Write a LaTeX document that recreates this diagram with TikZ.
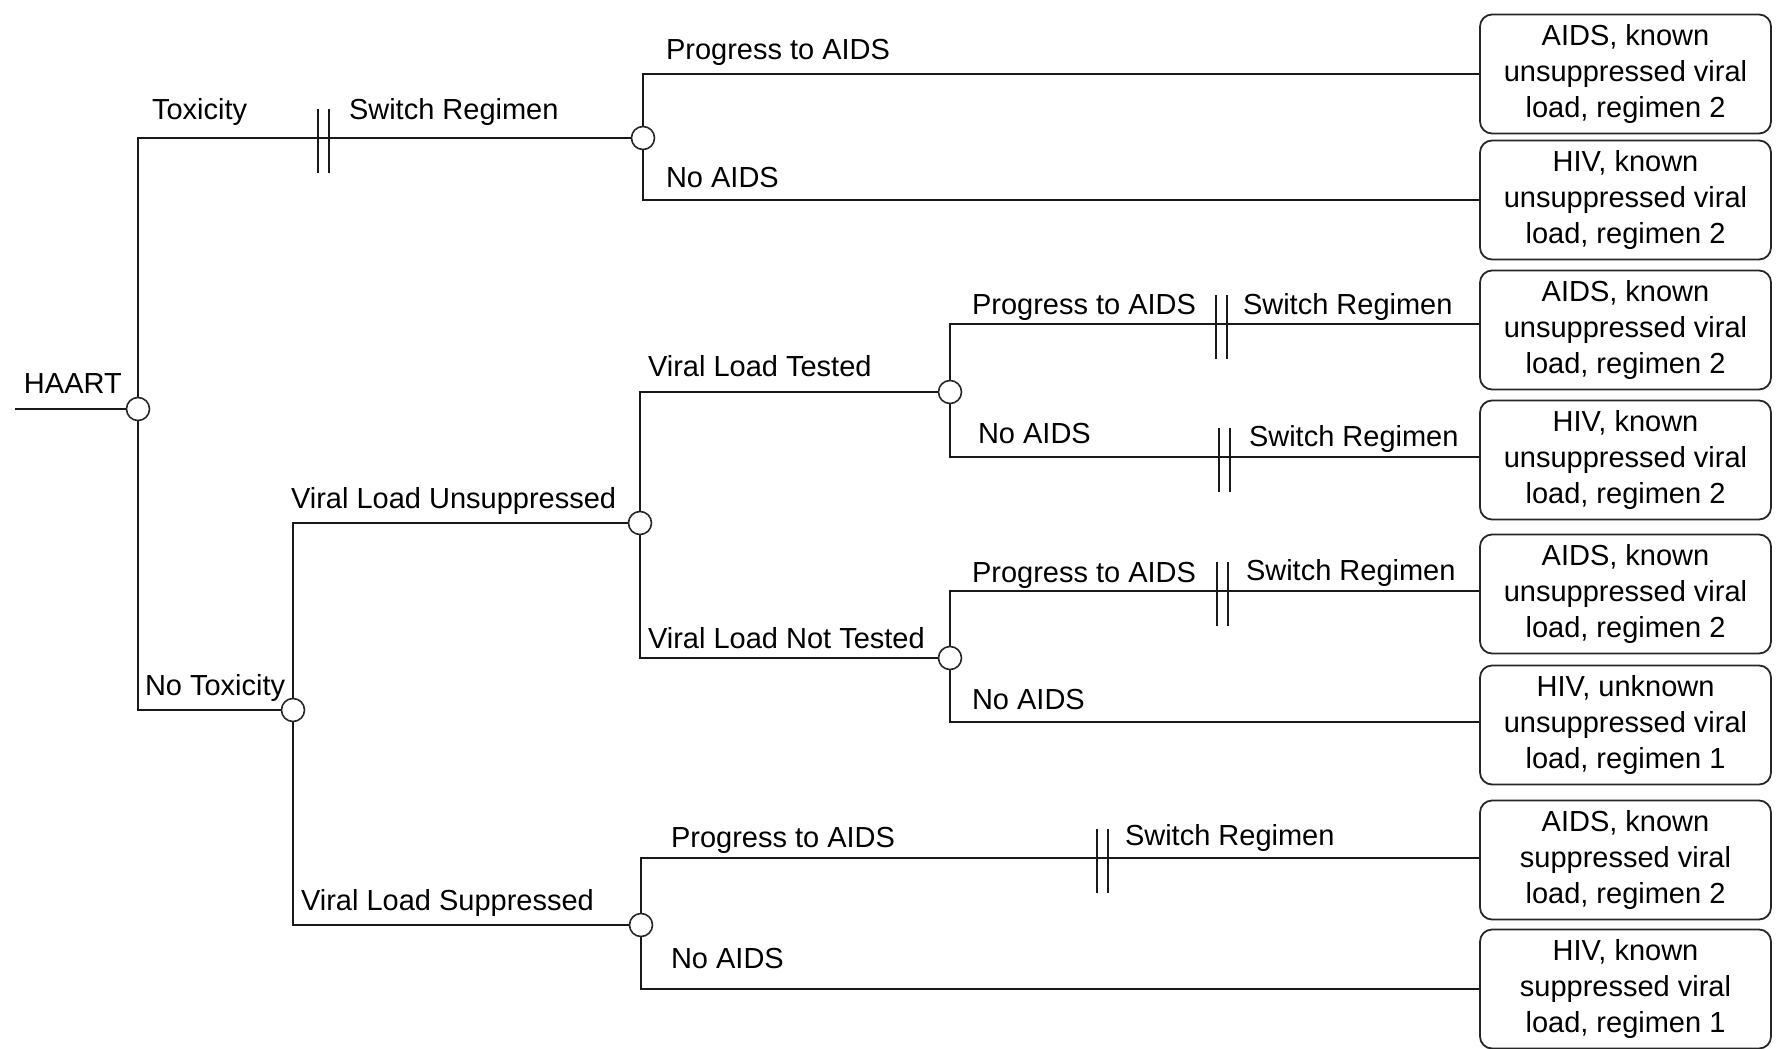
\documentclass[tikz,border=0pt]{standalone}
\usepackage{fontspec}
\setmainfont{Liberation Sans}
\begin{document}
\begin{tikzpicture}[x=0.5pt,y=-0.5pt,
  every path/.style={line width=1pt},
  chance/.style={circle,draw=black!85,fill=white,line width=0.8pt,minimum size=11.5pt,inner sep=0pt},
  lbl/.style={anchor=base west,inner sep=0pt,font=\fontsize{14.5}{17.85}\selectfont},
  outcome/.style={draw=black!85,line width=0.9pt,rounded corners=6pt,minimum width=145.5pt,minimum height=59.5pt,align=center,inner sep=0pt,font=\fontsize{14.5}{17.85}\selectfont},
  branch/.style={draw=black!90,line width=1pt}]
\useasboundingbox (0,0) rectangle (1777,1049);
\newcommand\dbar[2]{\draw[branch] ({#1-5.5},{#2-29}) -- ({#1-5.5},{#2+35}) ({#1+5.5},{#2-29}) -- ({#1+5.5},{#2+35});}
% outcome boxes
\node[outcome] (o1) at (1625.5,74) {AIDS, known\\unsuppressed viral\\load, regimen 2};
\node[outcome] (o2) at (1625.5,200) {HIV, known\\unsuppressed viral\\load, regimen 2};
\node[outcome] (o3) at (1625.5,330) {AIDS, known\\unsuppressed viral\\load, regimen 2};
\node[outcome] (o4) at (1625.5,460) {HIV, known\\unsuppressed viral\\load, regimen 2};
\node[outcome] (o5) at (1625.5,594) {AIDS, known\\unsuppressed viral\\load, regimen 2};
\node[outcome] (o6) at (1625.5,725) {HIV, unknown\\unsuppressed viral\\load, regimen 1};
\node[outcome] (o7) at (1625.5,860) {AIDS, known\\suppressed viral\\load, regimen 2};
\node[outcome] (o8) at (1625.5,989) {HIV, known\\suppressed viral\\load, regimen 1};
% chance nodes
\coordinate (start) at (15,409);
\node[chance] (R) at (138,409) {};
\node[chance] (B) at (643,138) {};
\node[chance] (C) at (293,710) {};
\node[chance] (D) at (640,523) {};
\node[chance] (E) at (950,392) {};
\node[chance] (F) at (950,658) {};
\node[chance] (G) at (641,925) {};
% connectors
\draw[branch] (start) -- (R);
\draw[branch] (R) |- (B);
\draw[branch] (R) |- (C);
\draw[branch] (B) |- ([yshift=0pt]o1.west |- 0,74);
\draw[branch] (B) |- (o2.west |- 0,200);
\draw[branch] (C) |- (D);
\draw[branch] (C) |- (G);
\draw[branch] (D) |- (E);
\draw[branch] (D) |- (F);
\draw[branch] (E) |- (o3.west |- 0,324);
\draw[branch] (E) |- (o4.west |- 0,457);
\draw[branch] (F) |- (o5.west |- 0,591);
\draw[branch] (F) |- (o6.west |- 0,722);
\draw[branch] (G) |- (o7.west |- 0,858);
\draw[branch] (G) |- (o8.west |- 0,989);
% double bars
\dbar{323}{138}
\dbar{1221}{324}
\dbar{1224}{457}
\dbar{1222}{591}
\dbar{1102}{858}
% labels
\node[lbl] (tHAART) at (23,393) {HAART};
\node[lbl] (tTox) at (151,119) {Toxicity};
\node[lbl] (tSw1) at (348,119) {Switch Regimen};
\node[lbl] (tP1) at (665,59) {Progress to AIDS};
\node[lbl] (tN1) at (665,187) {No AIDS};
\node[lbl] (tNoTox) at (144,695) {No Toxicity};
\node[lbl] (tVLU) at (290,508) {Viral Load Unsuppressed};
\node[lbl] (tVLT) at (647,376) {Viral Load Tested};
\node[lbl] (tVLNT) at (647,648) {Viral Load Not Tested};
\node[lbl] (tP2) at (971,314) {Progress to AIDS};
\node[lbl] (tSw2) at (1242,314) {Switch Regimen};
\node[lbl] (tN2) at (977,443) {No AIDS};
\node[lbl] (tSw3) at (1248,446) {Switch Regimen};
\node[lbl] (tP3) at (971,582) {Progress to AIDS};
\node[lbl] (tSw4) at (1245,580) {Switch Regimen};
\node[lbl] (tN3) at (971,709) {No AIDS};
\node[lbl] (tVLS) at (300,910) {Viral Load Suppressed};
\node[lbl] (tP4) at (670,847) {Progress to AIDS};
\node[lbl] (tSw5) at (1124,845) {Switch Regimen};
\node[lbl] (tN4) at (670,968) {No AIDS};
\end{tikzpicture}
\end{document}
